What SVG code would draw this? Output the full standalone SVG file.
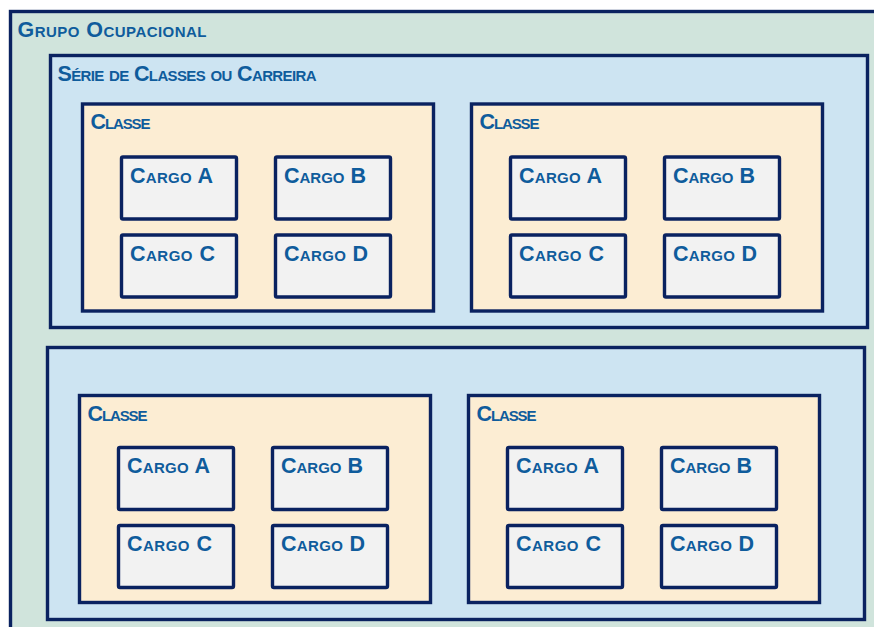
<svg xmlns="http://www.w3.org/2000/svg" width="874" height="627" viewBox="0 0 874 627">
<style>
  .box { stroke: #0a2260; stroke-width: 3.4; }
  .grp { fill: #d0e4dc; }
  .ser { fill: #cde4f2; }
  .cls { fill: #fcedd3; }
  .crg { fill: #f2f2f2; }
  .t { font-family: "Liberation Sans", Arial, sans-serif; font-weight: bold; font-size: 21.5px; font-variant: small-caps; fill: #0f5c9c; }
</style>
<g id="grupo">
  <rect class="box grp" x="10.5" y="11.5" width="900" height="660"/>
  <text class="t" x="17.5" y="36.5" textLength="189" lengthAdjust="spacing">Grupo Ocupacional</text>
</g>
<g id="serie1">
  <rect class="box ser" x="50.5" y="55.5" width="817" height="272"/>
  <text class="t" x="57.5" y="80.5" textLength="259" lengthAdjust="spacing">Série de Classes ou Carreira</text>
</g>
<g id="serie2">
  <rect class="box ser" x="47.5" y="347.5" width="817" height="272"/>
</g>

<g id="classe1" transform="translate(82.5,104)">
  <rect class="box cls" x="0" y="0" width="351" height="207"/>
  <text class="t" x="8" y="25" textLength="60" lengthAdjust="spacing">Classe</text>
  <g id="c1a" transform="translate(39,53)"><rect class="box crg" width="115" height="62" rx="1.5"/><text class="t" x="8.5" y="25.5" textLength="83" lengthAdjust="spacing">Cargo A</text></g>
  <g id="c1b" transform="translate(193,53)"><rect class="box crg" width="115" height="62" rx="1.5"/><text class="t" x="8.5" y="25.5" textLength="82" lengthAdjust="spacing">Cargo B</text></g>
  <g id="c1c" transform="translate(39,131)"><rect class="box crg" width="115" height="62" rx="1.5"/><text class="t" x="8.5" y="25.5" textLength="85" lengthAdjust="spacing">Cargo C</text></g>
  <g id="c1d" transform="translate(193,131)"><rect class="box crg" width="115" height="62" rx="1.5"/><text class="t" x="8.5" y="25.5" textLength="84" lengthAdjust="spacing">Cargo D</text></g>
</g>

<g id="classe2" transform="translate(471.5,104)">
  <rect class="box cls" x="0" y="0" width="351" height="207"/>
  <text class="t" x="8" y="25" textLength="60" lengthAdjust="spacing">Classe</text>
  <g id="c2a" transform="translate(39,53)"><rect class="box crg" width="115" height="62" rx="1.5"/><text class="t" x="8.5" y="25.5" textLength="83" lengthAdjust="spacing">Cargo A</text></g>
  <g id="c2b" transform="translate(193,53)"><rect class="box crg" width="115" height="62" rx="1.5"/><text class="t" x="8.5" y="25.5" textLength="82" lengthAdjust="spacing">Cargo B</text></g>
  <g id="c2c" transform="translate(39,131)"><rect class="box crg" width="115" height="62" rx="1.5"/><text class="t" x="8.5" y="25.5" textLength="85" lengthAdjust="spacing">Cargo C</text></g>
  <g id="c2d" transform="translate(193,131)"><rect class="box crg" width="115" height="62" rx="1.5"/><text class="t" x="8.5" y="25.5" textLength="84" lengthAdjust="spacing">Cargo D</text></g>
</g>

<g id="classe3" transform="translate(79.5,395.5)">
  <rect class="box cls" x="0" y="0" width="351" height="207"/>
  <text class="t" x="8" y="25" textLength="60" lengthAdjust="spacing">Classe</text>
  <g id="c3a" transform="translate(39,52)"><rect class="box crg" width="115" height="62" rx="1.5"/><text class="t" x="8.5" y="25.5" textLength="83" lengthAdjust="spacing">Cargo A</text></g>
  <g id="c3b" transform="translate(193,52)"><rect class="box crg" width="115" height="62" rx="1.5"/><text class="t" x="8.5" y="25.5" textLength="82" lengthAdjust="spacing">Cargo B</text></g>
  <g id="c3c" transform="translate(39,130)"><rect class="box crg" width="115" height="62" rx="1.5"/><text class="t" x="8.5" y="25.5" textLength="85" lengthAdjust="spacing">Cargo C</text></g>
  <g id="c3d" transform="translate(193,130)"><rect class="box crg" width="115" height="62" rx="1.5"/><text class="t" x="8.5" y="25.5" textLength="84" lengthAdjust="spacing">Cargo D</text></g>
</g>

<g id="classe4" transform="translate(468.5,395.5)">
  <rect class="box cls" x="0" y="0" width="351" height="207"/>
  <text class="t" x="8" y="25" textLength="60" lengthAdjust="spacing">Classe</text>
  <g id="c4a" transform="translate(39,52)"><rect class="box crg" width="115" height="62" rx="1.5"/><text class="t" x="8.5" y="25.5" textLength="83" lengthAdjust="spacing">Cargo A</text></g>
  <g id="c4b" transform="translate(193,52)"><rect class="box crg" width="115" height="62" rx="1.5"/><text class="t" x="8.5" y="25.5" textLength="82" lengthAdjust="spacing">Cargo B</text></g>
  <g id="c4c" transform="translate(39,130)"><rect class="box crg" width="115" height="62" rx="1.5"/><text class="t" x="8.5" y="25.5" textLength="85" lengthAdjust="spacing">Cargo C</text></g>
  <g id="c4d" transform="translate(193,130)"><rect class="box crg" width="115" height="62" rx="1.5"/><text class="t" x="8.5" y="25.5" textLength="84" lengthAdjust="spacing">Cargo D</text></g>
</g>
<g id="connectors"></g>
</svg>
